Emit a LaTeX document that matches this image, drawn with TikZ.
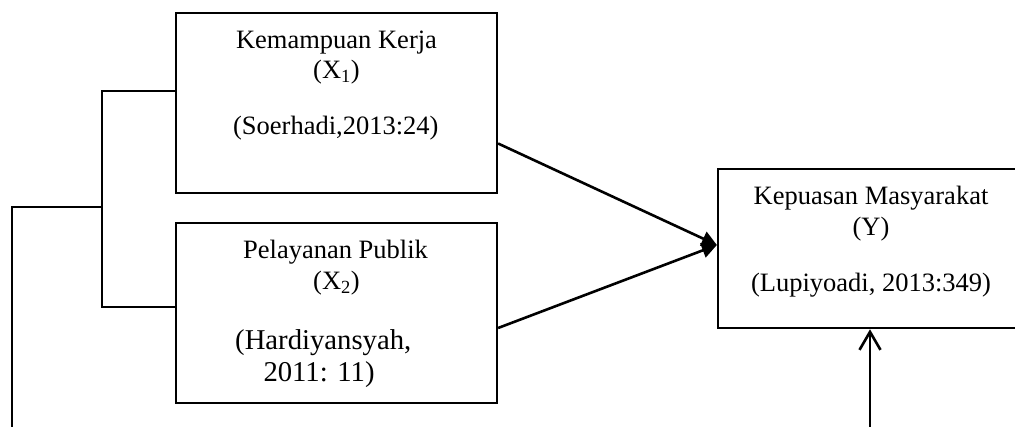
\documentclass[tikz,border=0pt]{standalone}
\usepackage{fontspec}
\setmainfont{Liberation Serif}
\usetikzlibrary{arrows.meta}
\begin{document}
\begin{tikzpicture}[x=1pt,y=-1pt,
  box/.style={draw=black,line width=2.2pt,rectangle,inner sep=0pt},
  lbl/.style={inner sep=0pt,anchor=base,font=\fontsize{26.5}{30}\selectfont},
  biglbl/.style={inner sep=0pt,anchor=base west,font=\fontsize{28.7}{32}\selectfont},
  link/.style={line width=2.2pt},
  arr/.style={line width=2.6pt,-{Triangle[length=15pt,width=15pt]}},
  uparr/.style={line width=2.6pt,-{Straight Barb[length=18pt,width=21pt]}}
]
\useasboundingbox (0,0) rectangle (1015,427);
\clip (0,0) rectangle (1015,427);

% variable boxes
\node[box,minimum width=321pt,minimum height=180pt] (b1) at (336.5,102.9) {};
\node[box,minimum width=321pt,minimum height=180pt] (b2) at (336.5,312.7) {};
\node[box,minimum width=306pt,minimum height=159pt] (by) at (871,248.7) {};

% box texts
\node[lbl] (b1t1) at (336.5,48.3) {Kemampuan Kerja};
\node[lbl] (b1t2) at (336.5,79) {(X\textsubscript{1})};
\node[lbl] (b1t3) at (335.8,135) {(Soerhadi,2013:24)};

\node[lbl] (b2t1) at (335.5,258.3) {Pelayanan Publik};
\node[lbl] (b2t2) at (336.5,290) {(X\textsubscript{2})};
\node[biglbl] (b2t3) at (235,350) {(Hardiyansyah,};
\node[biglbl] (b2t4) at (263.3,381.7) {2011: 11)};

\node[lbl] (byt1) at (871,205) {Kepuasan Masyarakat};
\node[lbl] (byt2) at (871,236) {(Y)};
\node[lbl] (byt3) at (871,292) {(Lupiyoadi, 2013:349)};

% bracket joining the two X boxes
\coordinate (k1) at (101.7,91);
\coordinate (k2) at (101.7,307);
\coordinate (km) at (101.7,207);
\coordinate (kc) at (12,207);
\coordinate (kb) at (12,427);
\draw[link] (b1.west |- k1) -- (k1) -- (k2) -- (b2.west |- k2);
\draw[link] (km) -- (kc) -- (kb);

% arrows into Y
\coordinate (tipy) at ([yshift=3.7pt]by.west);
\draw[arr] ([yshift=-40.6pt]b1.east) -- (tipy);
\draw[arr] ([yshift=-15.3pt]b2.east) -- (tipy);

\coordinate (ub) at (870,427);
\draw[uparr] (ub) -- (ub |- by.south);
\end{tikzpicture}
\end{document}
